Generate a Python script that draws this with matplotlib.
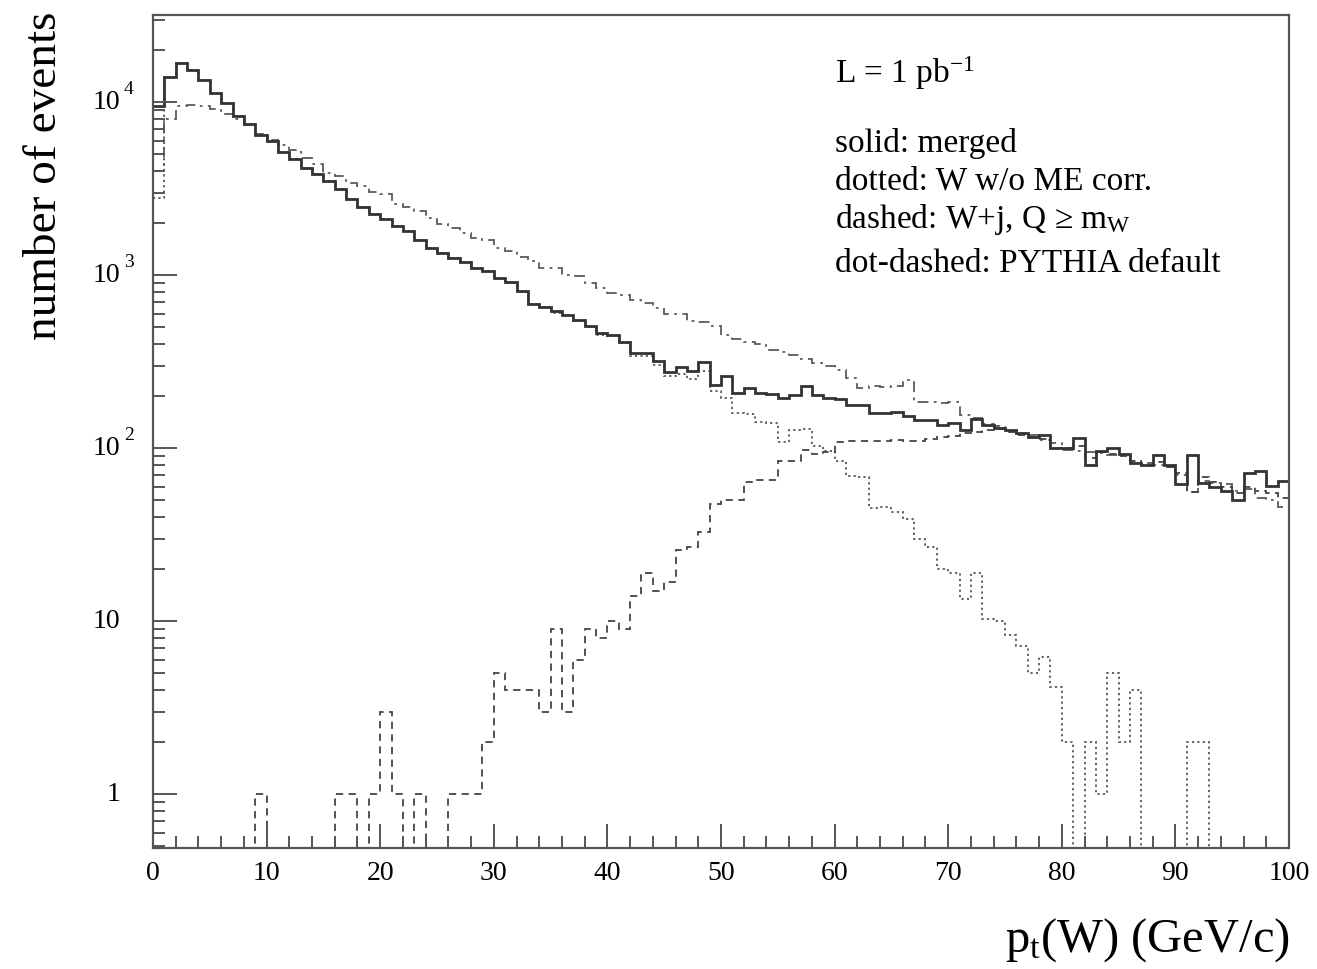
import numpy as np
import matplotlib
matplotlib.use('Agg')
import matplotlib.pyplot as plt
import matplotlib.transforms as mtransforms
from matplotlib.ticker import FixedLocator, MultipleLocator, LogLocator, NullFormatter

# ---------------- data (events per 1 GeV/c bin, 0..100 GeV/c) ----------------
bin_edges = list(range(0, 101))

merged = [9500, 14100, 17000, 15300, 13400, 11400, 9900, 8300, 7500, 6500,
          6000, 5150, 4700, 4200, 3850, 3500, 3150, 2750, 2480, 2250,
          2110, 1930, 1800, 1610, 1440, 1350, 1260, 1200, 1100, 1060,
          960, 910, 810, 684, 660, 620, 594, 553, 509, 465,
          454, 414, 356, 358, 322, 278, 295, 280, 315, 234,
          263, 210, 222, 208, 206, 195, 203, 228, 203, 195,
          192, 178, 178, 160, 160, 162, 153, 145, 146, 136,
          140, 127, 147, 137, 132, 127, 122, 117, 119, 100,
          101, 115, 80, 96, 100, 93, 82, 80, 92, 80,
          62, 92, 63, 60, 57, 50, 72, 74, 61, 65]

w_no_me = [2800, 14000, 17000, 15300, 13400, 11400, 9900, 8300, 7500, 6500,
           6000, 5150, 4700, 4200, 3850, 3500, 3150, 2750, 2480, 2250,
           2105, 1930, 1800, 1610, 1440, 1350, 1260, 1200, 1100, 1055,
           955, 905, 805, 680, 655, 610, 590, 545, 500, 455,
           445, 405, 342, 340, 305, 262, 268, 252, 282, 216,
           195, 160, 158, 143, 140, 109, 127, 130, 103, 97,
           85, 69, 68, 45, 46, 43, 39, 30, 27, 20,
           19, 13.5, 19, 10.3, 10, 8.4, 7.2, 5, 6.2, 4.2,
           2, 0, 2, 1, 5, 2, 4, 0, 0, 0,
           0, 2, 2, 0, 0, 0, 0, 0, 0, 0]

w_plus_j = [0, 0, 0, 0, 0, 0, 0, 0, 0, 1,
            0, 0, 0, 0, 0, 0, 1, 1, 0, 1,
            3, 1, 0, 1, 0, 0, 1, 1, 1, 2,
            5, 4, 4, 4, 3, 9, 3, 6, 9, 8,
            10, 9, 14, 19, 15, 17, 26, 27, 33, 48,
            50, 50, 64, 66, 66, 84, 85, 98, 93, 95,
            109, 110, 111, 110, 111, 112, 110, 111, 113, 116,
            118, 122, 125, 128, 130, 125, 120, 116, 114, 100,
            100, 103, 88, 95, 93, 90, 84, 80, 83, 78,
            72, 56, 68, 64, 60, 55, 60, 57, 55, 52]

pythia_default = [4000, 8000, 9500, 9700, 9500, 9200, 8600, 8000, 7400, 6600,
                  6100, 5700, 5300, 4800, 4400, 3900, 3750, 3400, 3300, 3050,
                  2950, 2600, 2500, 2350, 2150, 1980, 1880, 1760, 1650, 1600,
                  1440, 1380, 1270, 1210, 1110, 1100, 1010, 990, 900, 840,
                  790, 770, 720, 690, 650, 600, 595, 545, 540, 510,
                  455, 430, 410, 400, 370, 360, 345, 330, 310, 300,
                  285, 255, 222, 230, 226, 230, 248, 186, 185, 183,
                  186, 155, 150, 138, 135, 126, 123, 120, 112, 108,
                  98, 97, 95, 94, 92, 91, 85, 82, 80, 78,
                  70, 56, 65, 63, 62, 57, 58, 52, 50, 46]

y_tick_values = [1, 10, 100, 1000, 10000]
y_tick_bases = ['1', '10', '10', '10', '10']
y_tick_exps = ['', '', '2', '3', '4']

# ---------------- style ----------------
plt.rcParams['font.family'] = ['Liberation Serif', 'DejaVu Serif']
plt.rcParams['mathtext.fontset'] = 'custom'
plt.rcParams['mathtext.rm'] = 'Liberation Serif'
plt.rcParams['mathtext.it'] = 'Liberation Serif'
plt.rcParams['mathtext.bf'] = 'Liberation Serif:bold'

W, H = 1317, 969
fig = plt.figure(figsize=(W / 100, H / 100), dpi=100)
ax = fig.add_axes([153 / W, 1 - 848 / H, (1289 - 153) / W, (848 - 15) / H])

edges = np.array(bin_edges, dtype=float)
ink = '#333333'
ax.stairs(pythia_default, edges, baseline=None, color='#5a5a5a', lw=1.3,
          linestyle=(0, (6, 3, 1.5, 3)))
ax.stairs(w_no_me, edges, baseline=None, color='#555555', lw=1.3,
          linestyle=(0, (1.2, 1.8)))
ax.stairs(w_plus_j, edges, baseline=None, color='#444444', lw=1.3,
          linestyle=(0, (4, 3)))
ax.stairs(merged, edges, baseline=None, color=ink, lw=2.0)

ax.set_yscale('log', nonpositive='clip')
ax.set_xlim(0, 100)
ax.set_ylim(0.49, 3.2e4)

ax.xaxis.set_major_locator(MultipleLocator(10))
ax.xaxis.set_minor_locator(MultipleLocator(2))
ax.yaxis.set_major_locator(FixedLocator(y_tick_values))
ax.yaxis.set_minor_locator(LogLocator(base=10, subs=np.arange(2, 10)))
ax.yaxis.set_minor_formatter(NullFormatter())
ax.yaxis.set_major_formatter(NullFormatter())

ax.tick_params(axis='x', which='major', direction='in', length=17, width=1.4,
               color='#555555', top=False, labelsize=20, pad=9)
ax.tick_params(axis='x', which='minor', direction='in', length=8.5, width=1.4,
               color='#555555', top=False)
ax.tick_params(axis='y', which='major', direction='in', length=17, width=1.4,
               color='#555555', right=False)
ax.tick_params(axis='y', which='minor', direction='in', length=8.5, width=1.4,
               color='#555555', right=False)

for s in ax.spines.values():
    s.set_color('#555555')
    s.set_linewidth(1.6)

# y tick labels: base right-aligned, exponent hanging to the right
trans = mtransforms.blended_transform_factory(fig.transFigure, ax.transData)
for val, base, ex in zip(y_tick_values, y_tick_bases, y_tick_exps):
    fig.text(120 / W, val, base, transform=trans, ha='right', va='center', fontsize=20)
    if ex:
        off = mtransforms.offset_copy(trans, fig=fig, x=0, y=9, units='points')
        fig.text(124 / W, val, ex, transform=off, ha='left', va='center', fontsize=14)

fig.text(45 / W, 1 - 12 / H, 'number of events', rotation=90,
         ha='center', va='top', fontsize=34)
fig.text(1290 / W, 1 - 940 / H, r'p$_{\mathrm{t}}$(W) (GeV/c)',
         ha='right', va='center', fontsize=35)

tx = 835 / W
fs = 24
fig.text(tx, 1 - 83 / H, r'L = 1 pb$^{-1}$', ha='left', va='baseline', fontsize=fs)
fig.text(tx, 1 - 152 / H, 'solid: merged', ha='left', va='baseline', fontsize=fs)
fig.text(tx, 1 - 190 / H, 'dotted: W w/o ME corr.', ha='left', va='baseline', fontsize=fs)
fig.text(tx, 1 - 228 / H, r'dashed: W+j, Q ≥ m$_{W}$', ha='left', va='baseline', fontsize=fs)
fig.text(tx, 1 - 272 / H, 'dot-dashed: PYTHIA default', ha='left', va='baseline', fontsize=fs)

fig.savefig('out.png', dpi=100)
